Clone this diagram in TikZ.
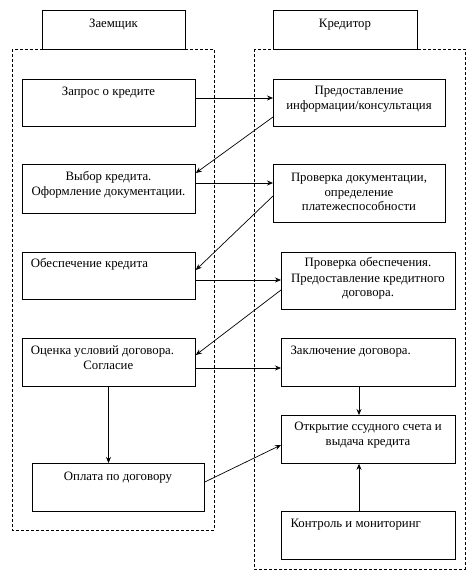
\documentclass[tikz,border=0pt]{standalone}
\usepackage{fontspec}
\setmainfont{Liberation Serif}
\usetikzlibrary{arrows.meta}
\begin{document}
\begin{tikzpicture}[x=1pt,y=-1pt,
  box/.style={draw, line width=0.8pt, rectangle, anchor=north west, inner sep=0pt},
  grp/.style={draw, line width=0.8pt, dash pattern=on 3pt off 2pt},
  txt/.style={font=\fontsize{12.8}{15}\selectfont, inner sep=0pt, anchor=base},
  ltxt/.style={font=\fontsize{12.8}{15}\selectfont, inner sep=0pt, anchor=base west},
  arr/.style={line width=0.7pt, -{Stealth[length=6pt,width=5pt]}}]
\useasboundingbox (0,0) rectangle (474,584);
% groups
\draw[grp] (12,49) rectangle (214,530);
\draw[grp] (254,49) rectangle (465,569);
% headers
\node[box, fill=white, minimum width=143pt, minimum height=39pt] (h1) at (42,10) {};
\node[txt] at (113.5,27.3) {Заемщик};
\node[box, fill=white, minimum width=144pt, minimum height=39pt] (h2) at (273,10) {};
\node[txt] at (345,27.3) {Кредитор};
% left boxes
\node[box, minimum width=173pt, minimum height=47pt] (l1) at (22,79) {};
\node[txt] at (108.5,95.7) {Запрос о кредите};
\node[box, minimum width=173pt, minimum height=49pt] (l2) at (22,164) {};
\node[txt] at (108.5,180) {Выбор кредита.};
\node[txt] at (108.5,195) {Оформление документации.};
\node[box, minimum width=173pt, minimum height=47pt] (l3) at (22,252) {};
\node[ltxt] at (30.7,267.7) {Обеспечение кредита};
\node[box, minimum width=173pt, minimum height=48pt] (l4) at (22,338) {};
\node[ltxt] at (30.7,354) {Оценка условий договора.};
\node[txt] at (108.3,369) {Согласие};
\node[box, minimum width=172pt, minimum height=48pt] (l5) at (32,463) {};
\node[txt] at (118,480) {Оплата по договору};
% right boxes
\node[box, minimum width=172pt, minimum height=47pt] (r1) at (273,79) {};
\node[txt] at (359,94.3) {Предоставление};
\node[txt] at (359,109.3) {информации/консультация};
\node[box, minimum width=172pt, minimum height=58pt] (r2) at (273,164) {};
\node[txt] at (359,181.7) {Проверка документации,};
\node[txt] at (359,196) {определение};
\node[txt] at (359,210.3) {платежеспособности};
\node[box, minimum width=174pt, minimum height=57pt] (r3) at (281,252) {};
\node[txt] at (368,266.7) {Проверка обеспечения.};
\node[txt] at (368,282) {Предоставление кредитного};
\node[txt] at (368,296.7) {договора.};
\node[box, minimum width=174pt, minimum height=48pt] (r4) at (281,338) {};
\node[ltxt] at (290.3,354.3) {Заключение договора.};
\node[box, minimum width=174pt, minimum height=48pt] (r5) at (281,415) {};
\node[txt] at (368,430.3) {Открытие ссудного счета и};
\node[txt] at (368,445.7) {выдача кредита};
\node[box, minimum width=174pt, minimum height=48pt] (r6) at (281,511) {};
\node[ltxt] at (290.3,527.7) {Контроль и мониторинг};
% connectors
\draw[arr] (l1.east |- 0,98) -- (r1.west |- 0,98);
\draw[arr] (r1.west |- 0,117) -- (l2.east |- 0,173);
\draw[arr] (l2.east |- 0,183) -- (r2.west |- 0,183);
\draw[arr] (r2.west |- 0,196) -- (l3.east |- 0,270);
\draw[arr] (l3.east |- 0,280) -- (r3.west |- 0,280);
\draw[arr] (r3.west |- 0,290) -- (l4.east |- 0,355);
\draw[arr] (l4.east |- 0,368) -- (r4.west |- 0,368);
\draw[arr] (l4.south -| 108.5,0) -- (l5.north -| 108.5,0);
\draw[arr] (r4.south -| 359,0) -- (r5.north -| 359,0);
\draw[arr] (l5.east |- 0,482) -- (r5.west |- 0,445);
\draw[arr] (r6.north -| 359,0) -- (r5.south -| 359,0);
\end{tikzpicture}
\end{document}
